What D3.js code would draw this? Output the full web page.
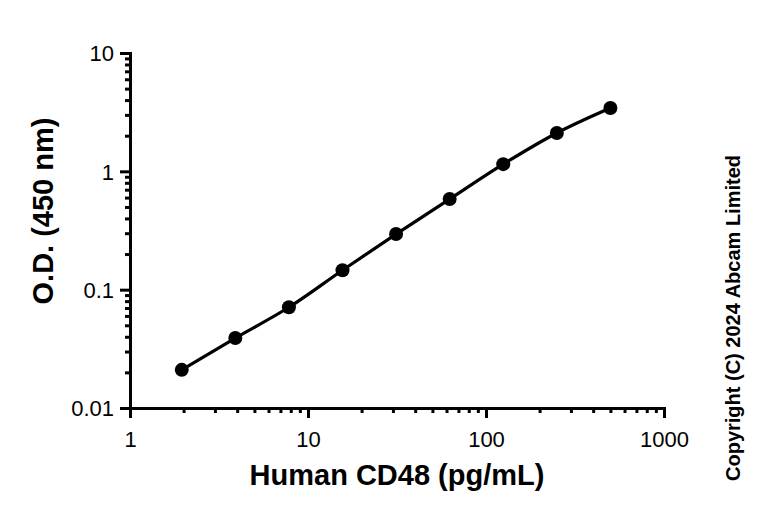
<!DOCTYPE html>
<html>
<head>
<meta charset="utf-8">
<script src="https://cdn.jsdelivr.net/npm/d3@7"></script>
<style>
  body { margin: 0; background: #fff; }
  text { font-family: "Liberation Sans", Arial, sans-serif; fill: #000; }
</style>
</head>
<body>
<div id="chart"></div>
<script>
(function() {
  var concentrations = [1.953, 3.906, 7.8125, 15.625, 31.25, 62.5, 125, 250, 500];
  var odValues = [0.021, 0.039, 0.071, 0.146, 0.295, 0.583, 1.15, 2.11, 3.43];
  var xTicks = [1, 10, 100, 1000];
  var yTicks = [0.01, 0.1, 1, 10];
  var yTickLabels = ["0.01", "0.1", "1", "10"];

  var margin = {top: 53, right: 104, bottom: 107, left: 130},
      width = 768 - margin.left - margin.right,
      height = 515 - margin.top - margin.bottom;

  var xPositionScale = d3.scaleLog().domain([1, 1000]).range([0, width]);
  var yPositionScale = d3.scaleLog().domain([0.01, 10]).range([height, 0]);

  var svg = d3.select("#chart")
        .append("svg")
        .attr("width", 768)
        .attr("height", 515)
        .append("g")
        .attr("transform", "translate(" + margin.left + "," + margin.top + ")");

  // minor ticks: 2..9 in every decade
  function minors(domain) {
    var out = [];
    for (var e = Math.log10(domain[0]); e < Math.log10(domain[1]); e++) {
      for (var m = 2; m <= 9; m++) out.push(m * Math.pow(10, e));
    }
    return out;
  }

  // x axis
  var xg = svg.append("g")
      .attr("class", "x axis")
      .attr("transform", "translate(0," + height + ")");
  xg.call(d3.axisBottom(xPositionScale).tickValues(minors([1, 1000])).tickSize(5).tickFormat(""));
  xg.append("g").call(d3.axisBottom(xPositionScale).tickValues(xTicks).tickSize(10)
    .tickFormat(d3.format("d")).tickPadding(13));

  // y axis
  var yg = svg.append("g").attr("class", "y axis");
  yg.call(d3.axisLeft(yPositionScale).tickValues(minors([0.01, 10])).tickSize(5).tickFormat(""));
  yg.append("g").call(d3.axisLeft(yPositionScale).tickValues(yTicks).tickSize(10)
    .tickFormat(function(d, i) { return yTickLabels[i]; }).tickPadding(6));

  svg.selectAll(".axis g g path.domain").remove();
  svg.selectAll(".axis path.domain").attr("stroke", "#000").attr("stroke-width", 3);
  svg.selectAll(".axis .tick line").attr("stroke", "#000").attr("stroke-width", 3);
  svg.selectAll(".axis text")
    .attr("font-family", "Liberation Sans, Arial, sans-serif")
    .attr("font-size", 22)
    .attr("fill", "#000");
  yg.selectAll("text").attr("dy", "0.36em");

  // curve
  var line = d3.line()
    .x(function(d) { return xPositionScale(d[0]); })
    .y(function(d) { return yPositionScale(d[1]); })
    .curve(d3.curveMonotoneX);

  var pts = concentrations.map(function(c, i) { return [c, odValues[i]]; });

  svg.append("path")
    .datum(pts)
    .attr("d", line)
    .attr("fill", "none")
    .attr("stroke", "#000")
    .attr("stroke-width", 3.2);

  svg.selectAll(".dot")
    .data(pts)
    .enter().append("circle")
    .attr("class", "dot")
    .attr("cx", function(d) { return xPositionScale(d[0]); })
    .attr("cy", function(d) { return yPositionScale(d[1]); })
    .attr("r", 7)
    .attr("fill", "#000");

  // titles
  svg.append("text")
    .attr("x", 397 - margin.left)
    .attr("y", 485 - margin.top)
    .attr("text-anchor", "middle")
    .attr("font-size", 29)
    .attr("font-weight", "bold")
    .text("Human CD48 (pg/mL)");

  svg.append("text")
    .attr("transform", "translate(" + (53 - margin.left) + "," + (211 - margin.top) + ") rotate(-90)")
    .attr("text-anchor", "middle")
    .attr("font-size", 29)
    .attr("font-weight", "bold")
    .text("O.D. (450 nm)");

  svg.append("text")
    .attr("transform", "translate(" + (740 - margin.left) + "," + (318 - margin.top) + ") rotate(-90)")
    .attr("text-anchor", "middle")
    .attr("font-size", 20)
    .attr("font-weight", "bold")
    .text("Copyright (C) 2024 Abcam Limited");
})();
</script>
</body>
</html>
